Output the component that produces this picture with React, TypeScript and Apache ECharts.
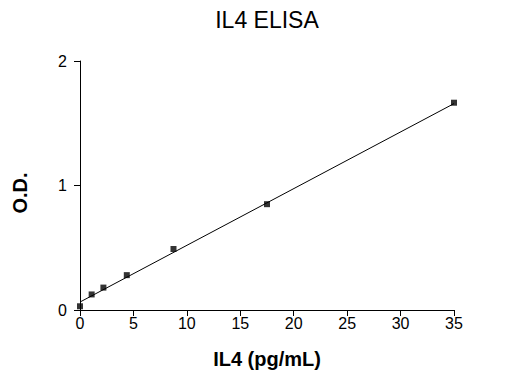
import React, { useEffect, useRef } from "react";
import * as echarts from "echarts";

const concentrations = [0, 1.09, 2.19, 4.38, 8.75, 17.5, 35];
const odValues = [0.03, 0.125, 0.18, 0.28, 0.49, 0.85, 1.665];
const fitX = [0, 35];
const fitY = [0.064, 1.658];
const xTicks = [0, 5, 10, 15, 20, 25, 30, 35];
const yTicks = [0, 1, 2];

const FONT = "'Liberation Sans', Arial, sans-serif";

export default function App() {
  const ref = useRef<HTMLDivElement>(null);
  useEffect(() => {
    if (!ref.current) return;
    const chart = echarts.init(ref.current, undefined, { renderer: "svg" });
    chart.setOption({
      animation: false,
      backgroundColor: "#ffffff",
      grid: { left: 80, right: 53, top: 61, bottom: 73, containLabel: false },
      xAxis: {
        type: "value",
        min: xTicks[0],
        max: xTicks[xTicks.length - 1],
        interval: 5,
        axisLine: { show: true, onZero: false, lineStyle: { color: "#000", width: 1 } },
        axisTick: { show: true, length: 6, lineStyle: { color: "#000" } },
        axisLabel: { color: "#000", fontSize: 16, fontFamily: FONT, margin: 5 },
        splitLine: { show: false },
      },
      yAxis: {
        type: "value",
        min: yTicks[0],
        max: yTicks[yTicks.length - 1],
        interval: 1,
        axisLine: { show: true, onZero: false, lineStyle: { color: "#000", width: 1 } },
        axisTick: { show: true, length: 6, lineStyle: { color: "#000" } },
        axisLabel: { color: "#000", fontSize: 16, fontFamily: FONT, margin: 13 },
        splitLine: { show: false },
      },
      graphic: [
        {
          type: "text",
          x: 267,
          y: 20,
          style: {
            text: "IL4 ELISA",
            fontSize: 23,
            fontFamily: FONT,
            fill: "#000",
            align: "center",
            verticalAlign: "middle",
          },
        },
        {
          type: "text",
          x: 267,
          y: 359,
          style: {
            text: "IL4 (pg/mL)",
            fontSize: 20,
            fontWeight: "bold",
            fontFamily: FONT,
            fill: "#000",
            align: "center",
            verticalAlign: "middle",
          },
        },
        {
          type: "text",
          x: 20,
          y: 193,
          rotation: Math.PI / 2,
          style: {
            text: "O.D.",
            fontSize: 20,
            fontWeight: "bold",
            fontFamily: FONT,
            fill: "#000",
            align: "center",
            verticalAlign: "middle",
          },
        },
      ],
      series: [
        {
          type: "line",
          data: fitX.map((x, i) => [x, fitY[i]]),
          showSymbol: false,
          symbol: "none",
          lineStyle: { color: "#000", width: 1 },
          silent: true,
        },
        {
          type: "scatter",
          data: concentrations.map((x, i) => [x, odValues[i]]),
          symbol: "rect",
          symbolSize: 6,
          itemStyle: { color: "#000" },
        },
      ],
    });
    return () => chart.dispose();
  }, []);
  return (
    <div
      ref={ref}
      style={{ position: "absolute", left: 0, top: 0, width: 507, height: 383 }}
    />
  );
}
